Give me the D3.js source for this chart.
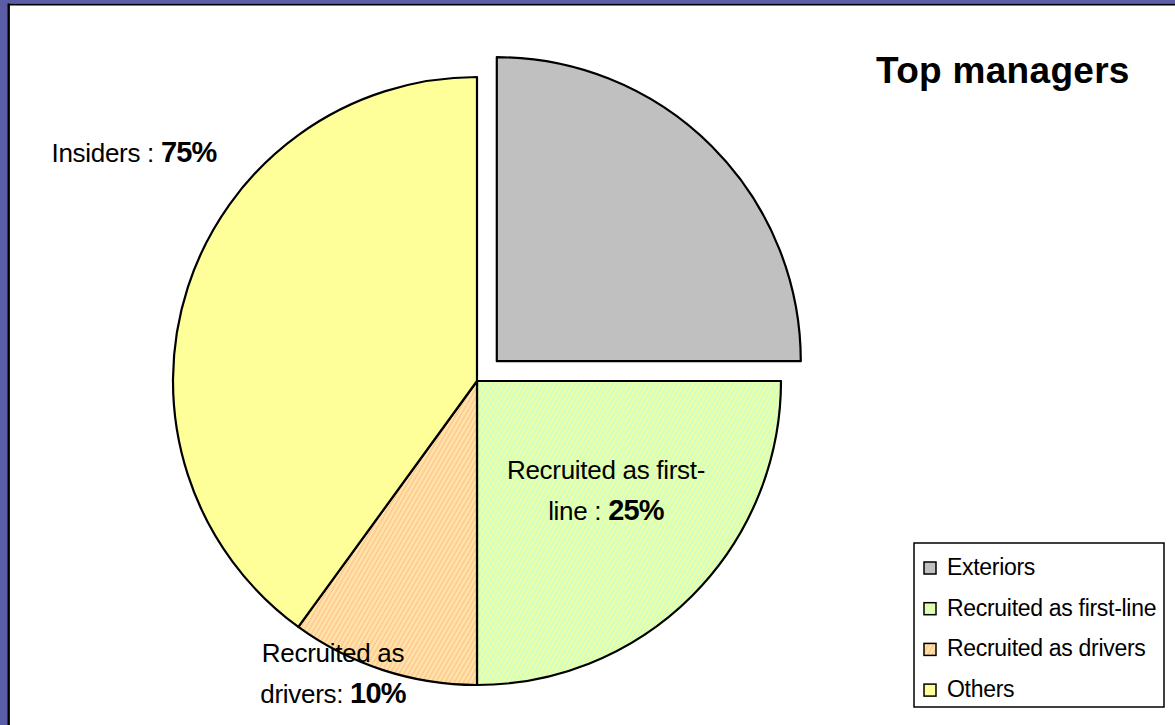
<!DOCTYPE html>
<html>
<head>
<meta charset="utf-8">
<script src="https://cdn.jsdelivr.net/npm/d3@7"></script>
<style>
  body { margin: 0; background: #fff; }
  text { font-family: "Liberation Sans", Arial, sans-serif; fill: #000; }
</style>
</head>
<body>
<div id="chart"></div>
<script>
// chart data
const categories = ["Exteriors", "Recruited as first-line", "Recruited as drivers", "Others"];
const shares = [25, 25, 10, 40];
const labelLines = [null, ["Recruited as first-", "line : "], ["Recruited as", "drivers: "], ["Insiders : "]];
const labelValues = ["", "25%", "10%", "75%"];
const title = "Top managers";

const w = 1175;
const h = 725;
const cx = 477, cy = 381;
const radius = 304;
const explode = 28;

const colors = ["#c0c0c0", "url(#hatchGreen)", "url(#hatchOrange)", "#ffff99"];

// where the data labels sit, as offsets from the pie centre
const labelOffset = [null, [129, 98], [-144, 281], [-343, -219]];
const lineHeight = 41;

const svg = d3.select("#chart")
    .append("svg")
    .attr("width", w)
    .attr("height", h);

const defs = svg.append("defs");
function hatch(id, bg, fg) {
    const p = defs.append("pattern")
        .attr("id", id)
        .attr("patternUnits", "userSpaceOnUse")
        .attr("width", 4)
        .attr("height", 4)
        .attr("patternTransform", "rotate(30)");
    p.append("rect").attr("width", 4).attr("height", 4).attr("fill", bg);
    p.append("rect").attr("width", 2).attr("height", 4).attr("fill", fg);
}
hatch("hatchGreen", "#ccffcc", "#f0ff9c");
hatch("hatchOrange", "#ffcc99", "#ffe6a6");

// frame
svg.append("rect").attr("x", 0).attr("y", 0).attr("width", 8).attr("height", h).attr("fill", "#5b5ea6");
svg.append("rect").attr("x", 0).attr("y", 0).attr("width", w).attr("height", 3.5).attr("fill", "#5b5ea6");
svg.append("line").attr("x1", 8.7).attr("x2", 8.7).attr("y1", 3.5).attr("y2", h)
    .attr("stroke", "#000").attr("stroke-width", 2.4);
svg.append("line").attr("x1", 8).attr("x2", w).attr("y1", 4.5).attr("y2", 4.5)
    .attr("stroke", "#000").attr("stroke-width", 2);

const pie = d3.pie().sort(null).value(d => d);
const arc = d3.arc().innerRadius(0).outerRadius(radius);

const arcs = pie(shares);

const g = svg.append("g").attr("transform", `translate(${cx}, ${cy})`);

g.selectAll("path")
    .data(arcs)
    .enter()
    .append("path")
    .attr("d", arc)
    .attr("fill", (d, i) => colors[i])
    .attr("stroke", "#000")
    .attr("stroke-width", 2.2)
    .attr("stroke-linejoin", "round")
    .attr("transform", (d, i) => {
        if (i !== 0) return null;
        const mid = (d.startAngle + d.endAngle) / 2;
        return `translate(${Math.sin(mid) * explode}, ${-Math.cos(mid) * explode})`;
    });

// data labels
arcs.forEach((d, i) => {
    if (!labelLines[i]) return;
    const [ox, oy] = labelOffset[i];
    const lines = labelLines[i];
    lines.forEach((line, j) => {
        const t = g.append("text")
            .attr("x", ox)
            .attr("y", oy + j * lineHeight)
            .attr("text-anchor", "middle")
            .style("font-size", "26px")
            .style("letter-spacing", "-0.3px");
        t.append("tspan").text(line);
        if (j === lines.length - 1) {
            t.append("tspan")
                .style("font-weight", "bold")
                .style("font-size", "29px")
                .style("letter-spacing", "-0.8px")
                .text(labelValues[i]);
        }
    });
});

// title
svg.append("text")
    .attr("x", 876)
    .attr("y", 83)
    .style("font-size", "37px")
    .style("font-weight", "bold")
    .style("letter-spacing", "0.3px")
    .text(title);

// legend
const legend = svg.append("g").attr("transform", "translate(914, 543)");
legend.append("rect")
    .attr("width", 250)
    .attr("height", 164)
    .attr("fill", "#fff")
    .attr("stroke", "#000")
    .attr("stroke-width", 1.5);

const rows = legend.selectAll("g.row")
    .data(categories)
    .enter()
    .append("g")
    .attr("class", "row")
    .attr("transform", (d, i) => `translate(0, ${32 + i * 40.7})`);

rows.append("rect")
    .attr("x", 10)
    .attr("y", -13)
    .attr("width", 12)
    .attr("height", 12)
    .attr("fill", (d, i) => colors[i])
    .attr("stroke", "#000")
    .attr("stroke-width", 1.5);

rows.append("text")
    .attr("x", 33)
    .attr("y", 0)
    .style("font-size", "23px")
    .style("letter-spacing", "-0.3px")
    .text(d => d);
</script>
</body>
</html>
